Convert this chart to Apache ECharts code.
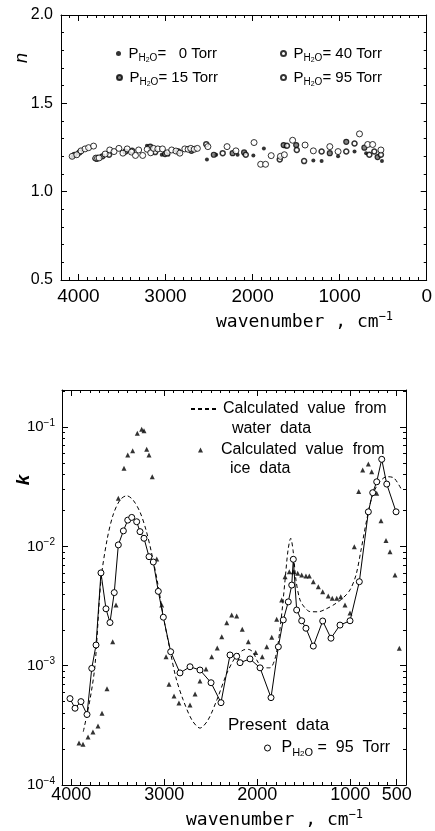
<!DOCTYPE html>
<html><head><meta charset="utf-8">
<script src="https://cdn.jsdelivr.net/npm/echarts@6/dist/echarts.min.js"></script>
<style>html,body{margin:0;padding:0;background:#fff}#c{width:435px;height:831px}</style>
</head><body><div id="c"></div>
<script>
// ---------- DATA ----------
// Top panel: refractive index n vs wavenumber (cm^-1)
const nTorr0 = [[4072,1.196],[3818,1.187],[3213,1.260],[3043,1.209],[2967,1.209],[2524,1.182],[2418,1.209],[2172,1.209],[1991,1.205],[1870,1.245],[1624,1.255],[1302,1.176],[1207,1.173],[1018,1.200],[829,1.227],[696,1.218],[514,1.173]];
const nTorr15 = [[4045,1.209],[3792,1.187],[3724,1.200],[3459,1.227],[3175,1.255],[3005,1.213],[2702,1.231],[2445,1.209],[2229,1.218],[2097,1.222],[1643,1.264],[1499,1.264],[1113,1.218],[924,1.282],[716,1.249],[564,1.196]];
const nTorr40 = [[3989,1.222],[3648,1.209],[3383,1.231],[3118,1.224],[2853,1.227],[2532,1.269],[2343,1.218],[2078,1.209],[1688,1.182],[1605,1.260],[1492,1.236],[1408,1.173],[1207,1.227],[924,1.227],[829,1.273],[659,1.209],[602,1.227],[526,1.209]];
const nTorr95 = [[4072,1.200],[4019,1.209],[3970,1.231],[3924,1.242],[3883,1.249],[3826,1.258],[3800,1.190],[3780,1.190],[3762,1.191],[3693,1.213],[3640,1.236],[3591,1.227],[3535,1.245],[3489,1.218],[3440,1.242],[3391,1.224],[3345,1.205],[3308,1.236],[3262,1.205],[3210,1.240],[3170,1.220],[3137,1.245],[3088,1.242],[3035,1.242],[2980,1.220],[2929,1.236],[2880,1.230],[2835,1.218],[2778,1.242],[2740,1.240],[2710,1.245],[2670,1.240],[2634,1.245],[2513,1.255],[2293,1.255],[2191,1.231],[1983,1.278],[1907,1.155],[1851,1.155],[1786,1.204],[1680,1.200],[1635,1.209],[1540,1.291],[1397,1.264],[1302,1.231],[1113,1.255],[1018,1.227],[772,1.327],[678,1.267],[621,1.267],[526,1.236]];
// Bottom panel: absorption index k vs wavenumber
const kWater = [[3871,2.8e-4],[3799,5.2e-4],[3745,1.01e-3],[3681,5.2e-3],[3616,1.13e-2],[3551,1.83e-2],[3476,2.45e-2],[3404,2.66e-2],[3336,2.45e-2],[3261,1.94e-2],[3196,1.37e-2],[3132,8.5e-3],[3067,4.74e-3],[3003,2.42e-3],[2938,1.35e-3],[2874,7.9e-4],[2798,5.2e-4],[2702,3.5e-4],[2616,3.0e-4],[2530,3.5e-4],[2433,5.2e-4],[2325,8.7e-4],[2228,1.2e-3],[2153,1.35e-3],[2096,1.37e-3],[2046,1.3e-3],[1992,1.07e-3],[1927,9.6e-4],[1863,9.6e-4],[1798,1.23e-3],[1744,2.42e-3],[1701,5.2e-3],[1669,9.3e-3],[1640,1.17e-2],[1615,9.3e-3],[1583,5.2e-3],[1540,3.56e-3],[1486,3.05e-3],[1432,2.84e-3],[1346,2.83e-3],[1260,2.99e-3],[1164,3.29e-3],[1078,3.69e-3],[1002,4.32e-3],[938,5.75e-3],[884,9.3e-3],[823,1.66e-2],[766,2.6e-2],[701,3.33e-2],[608,3.84e-2],[529,3.74e-2],[446,2.97e-2]];
const kIce = [[3917,2.25e-4],[3874,2.2e-4],[3820,2.52e-4],[3767,2.78e-4],[3713,3.13e-4],[3670,4.0e-4],[3616,6.4e-4],[3555,1.59e-3],[3519,3.23e-3],[3494,2.53e-2],[3433,4.52e-2],[3393,5.84e-2],[3340,6.34e-2],[3290,8.87e-2],[3243,9.6e-2],[3218,9.33e-2],[3189,6.52e-2],[3164,5.84e-2],[3129,3.84e-2],[3081,7.83e-3],[3028,3.23e-3],[2981,1.19e-3],[2949,7.0e-4],[2895,5.57e-4],[2842,4.87e-4],[2723,4.69e-4],[2669,5.79e-4],[2616,7.44e-4],[2551,9.38e-4],[2490,1.19e-3],[2430,1.41e-3],[2382,1.75e-3],[2328,2.29e-3],[2275,2.66e-3],[2221,2.61e-3],[2161,2.02e-3],[2096,1.59e-3],[2017,1.29e-3],[1946,1.19e-3],[1898,1.44e-3],[1844,1.73e-3],[1791,2.45e-3],[1737,3.56e-3],[1701,5.57e-3],[1655,6.14e-3],[1612,6.14e-3],[1565,5.96e-3],[1522,5.75e-3],[1476,5.65e-3],[1440,5.65e-3],[1397,5.06e-3],[1343,4.59e-3],[1296,4.17e-3],[1236,3.84e-3],[1193,3.67e-3],[1145,3.67e-3],[1102,3.79e-3],[1056,3.23e-3],[1002,2.77e-3],[956,9.95e-3],[909,2.88e-2],[866,4.37e-2],[805,4.91e-2],[769,4.23e-2],[715,2.79e-2],[669,1.64e-2],[615,1.12e-2],[572,9.04e-3],[518,5.75e-3],[472,1.4e-3]];
const kPresent = [[4014,5.3e-4],[3960,4.4e-4],[3896,5.0e-4],[3831,3.9e-4],[3780,9.5e-4],[3734,1.49e-3],[3681,6.0e-3],[3627,3.0e-3],[3584,2.3e-3],[3538,4.1e-3],[3494,1.03e-2],[3440,1.35e-2],[3393,1.66e-2],[3350,1.75e-2],[3297,1.61e-2],[3261,1.33e-2],[3218,1.17e-2],[3164,8.2e-3],[3118,7.4e-3],[3064,4.2e-3],[3010,2.55e-3],[2931,1.31e-3],[2831,8.7e-4],[2723,9.8e-4],[2616,9.2e-4],[2497,7.2e-4],[2390,4.9e-4],[2293,1.23e-3],[2221,1.2e-3],[2185,1.06e-3],[2078,1.14e-3],[1970,9.6e-4],[1852,5.4e-4],[1773,1.44e-3],[1720,2.42e-3],[1666,3.43e-3],[1629,4.74e-3],[1612,7.8e-3],[1576,2.93e-3],[1522,2.38e-3],[1476,2.06e-3],[1397,1.46e-3],[1296,2.37e-3],[1207,1.7e-3],[1110,2.19e-3],[1002,2.38e-3],[902,5.06e-3],[805,1.95e-2],[758,2.82e-2],[715,3.48e-2],[661,5.37e-2],[607,3.33e-2],[507,1.95e-2]];
// Tick labels
const topXTicks = [0,1000,2000,3000,4000];
const topYTicks = [0.5,1.0,1.5,2.0];
const botXTicks = [500,1000,2000,3000,4000];
const botYTicks = [1e-4,1e-3,1e-2,1e-1];

// ---------- CHART ----------
const SANS = '"Liberation Sans", Arial, sans-serif';
const MONO = '"DejaVu Sans Mono", monospace';
const BLK = '#000';
const chart = echarts.init(document.getElementById('c'), null, {renderer:'canvas'});

function xMinor(grid, min, max, pos) {
  return {type:'value', gridIndex:grid, min:min, max:max, inverse:true, position:pos, interval:100,
    axisLine:{show:true, onZero:false, lineStyle:{color:BLK, width:1}},
    axisTick:{show:true, inside:true, length:3, lineStyle:{color:BLK, width:1}},
    axisLabel:{show:false}, splitLine:{show:false}};
}
function xMajor(grid, min, max, pos, ticks, showLabel, fs, margin) {
  return {type:'value', gridIndex:grid, min:min, max:max, inverse:true, position:pos,
    axisLine:{show:false, onZero:false},
    axisTick:{show:true, inside:true, length:6, customValues:ticks, lineStyle:{color:BLK, width:1}},
    axisLabel:{show:showLabel, customValues:ticks, color:BLK, fontFamily:SANS, fontSize:fs, margin:margin,
      formatter:v=>String(v)},
    splitLine:{show:false}};
}
function yTop(pos, showLabel) {
  return {type:'value', gridIndex:0, min:0.5, max:2.0, interval:0.5, position:pos,
    axisLine:{show:true, onZero:false, lineStyle:{color:BLK, width:1}},
    axisTick:{show:true, inside:true, length:6, lineStyle:{color:BLK}},
    minorTick:{show:true, splitNumber:5, length:3, lineStyle:{color:BLK}},
    axisLabel:{show:showLabel, color:BLK, fontFamily:SANS, fontSize:16, margin:8, formatter:v=>v.toFixed(1)},
    splitLine:{show:false}};
}
function yBot(pos, showLabel) {
  return {type:'log', logBase:10, gridIndex:1, min:1e-4, max:0.2047, position:pos,
    axisLine:{show:true, onZero:false, lineStyle:{color:BLK, width:1}},
    axisTick:{show:true, inside:true, length:6, lineStyle:{color:BLK}},
    minorTick:{show:true, splitNumber:9, length:3, lineStyle:{color:BLK}},
    axisLabel:{show:showLabel, customValues:botYTicks, margin:7,
      formatter:v=>{const e=Math.round(Math.log10(v)); return '{b|10}{e|'+(e<0?'\u2212':'')+Math.abs(e)+'}';},
      rich:{b:{fontSize:15, fontFamily:SANS, color:BLK, lineHeight:18}, e:{fontSize:10, fontFamily:SANS, color:BLK, verticalAlign:'top'}}},
    splitLine:{show:false}};
}

const legRich = {
  p:{fontSize:15, fontFamily:SANS, color:BLK, lineHeight:20},
  s:{fontSize:10, fontFamily:SANS, color:BLK, verticalAlign:'bottom'},
  s2:{fontSize:7, fontFamily:SANS, color:BLK, verticalAlign:'bottom'}
};
const legRich2 = {
  p:{fontSize:16, fontFamily:SANS, color:BLK, lineHeight:20},
  s:{fontSize:11, fontFamily:SANS, color:BLK, verticalAlign:'bottom'},
  s2:{fontSize:8, fontFamily:SANS, color:BLK, verticalAlign:'bottom'},
  a:{fontSize:16, fontFamily:SANS, color:BLK, lineHeight:20},
  i:{fontSize:16, fontFamily:SANS, color:BLK, lineHeight:19}
};
function pLabel(t){ return '{p|P}{s|H}{s2|2}{s|O}{p|'+t+'}'; }
function topLegend(name, left, top, label) {
  return {data:[name], left:left, top:top, padding:0, itemWidth:10, itemHeight:5, itemGap:0,
    selectedMode:false, formatter:()=>pLabel(label), textStyle:{rich:legRich}};
}

const option = {
  animation:false,
  backgroundColor:'#fff',
  textStyle:{fontFamily:SANS},
  grid:[
    {left:61, top:15, width:371, height:265},
    {left:62, top:390, width:344, height:395}
  ],
  xAxis:[
    xMinor(0,0,4200,'bottom'),
    xMajor(0,0,4200,'bottom',topXTicks,true,19,7),
    xMinor(0,0,4200,'top'),
    xMajor(0,0,4200,'top',topXTicks,false,19,7),
    xMinor(1,400,4100,'bottom'),
    xMajor(1,400,4100,'bottom',botXTicks,true,18,1),
    xMinor(1,400,4100,'top'),
    xMajor(1,400,4100,'top',botXTicks,false,18,1)
  ],
  yAxis:[ yTop('left',true), yTop('right',false), yBot('left',true), yBot('right',false) ],
  legend:[
    topLegend('0 Torr', 116, 46, '=   0 Torr'),
    topLegend('15 Torr', 116, 70, '= 15 Torr'),
    topLegend('40 Torr', 280, 46, '= 40 Torr'),
    topLegend('95 Torr', 280, 70, '= 95 Torr'),
    {data:['water'], left:190, top:401, padding:0, itemWidth:27, itemHeight:8, selectedMode:false,
      itemStyle:{opacity:0},
      formatter:()=>'{a|Calculated  value  from}\n{a|  water  data}', textStyle:{rich:legRich2, padding:[20,0,0,0]}},
    {data:['ice'], left:198, top:442, padding:0, itemWidth:5, itemHeight:5, selectedMode:false,
      formatter:()=>'{i|Calculated  value  from}\n{i|  ice  data}', textStyle:{rich:legRich2, padding:[19,0,0,13]}},
    {data:[{name:'present', icon:'circle'}], left:264, top:740, padding:0, itemWidth:18, itemHeight:6, selectedMode:false,
      itemStyle:{color:'#fff', borderColor:BLK, borderWidth:1},
      formatter:()=>'{p|P}{s|H}{s2|2}{s|O}{p| =  95  Torr}', textStyle:{rich:legRich2}}
  ],
  graphic:[
    {type:'text', x:22, y:58, rotation:Math.PI/2, style:{text:'n', font:'italic 18px "Liberation Sans"', fill:BLK, align:'center', verticalAlign:'middle'}},
    {type:'text', x:24, y:480, rotation:Math.PI/2, style:{text:'k', font:'italic bold 19px "Liberation Sans"', fill:BLK, align:'center', verticalAlign:'middle'}},
    {type:'text', x:216, y:322, style:{text:'{a|wavenumber , cm}{s|\u22121}', verticalAlign:'middle',
      rich:{a:{fontSize:18, fontFamily:MONO, color:BLK, lineHeight:22}, s:{fontSize:12, fontFamily:MONO, color:BLK, verticalAlign:'top'}}}},
    {type:'text', x:186, y:820, style:{text:'{a|wavenumber , cm}{s|\u22121}', verticalAlign:'middle',
      rich:{a:{fontSize:18, fontFamily:MONO, color:BLK, lineHeight:22}, s:{fontSize:12, fontFamily:MONO, color:BLK, verticalAlign:'top'}}}},
    {type:'text', x:228, y:725, style:{text:'Present  data', font:'17px "Liberation Sans"', fill:BLK, verticalAlign:'middle'}}
  ],
  series:[
    {name:'0 Torr', type:'scatter', xAxisIndex:0, yAxisIndex:0, data:nTorr0, symbol:'circle', symbolSize:4,
      itemStyle:{color:BLK}},
    {name:'15 Torr', type:'scatter', xAxisIndex:0, yAxisIndex:0, data:nTorr15, symbol:'circle', symbolSize:5,
      itemStyle:{color:'#666', borderColor:BLK, borderWidth:1.2}},
    {name:'40 Torr', type:'scatter', xAxisIndex:0, yAxisIndex:0, data:nTorr40, symbol:'circle', symbolSize:5,
      itemStyle:{color:'#fff', borderColor:BLK, borderWidth:1.5}},
    {name:'95 Torr', type:'scatter', xAxisIndex:0, yAxisIndex:0, data:nTorr95, symbol:'circle', symbolSize:6,
      itemStyle:{color:'#fff', borderColor:BLK, borderWidth:1}},
    {name:'water', type:'line', xAxisIndex:4, yAxisIndex:2, data:kWater, showSymbol:false, symbol:'none', smooth:0.3,
      lineStyle:{color:BLK, width:1, type:[4,3]}, itemStyle:{color:BLK}},
    {name:'ice', type:'scatter', xAxisIndex:4, yAxisIndex:2, data:kIce, symbol:'triangle', symbolSize:5,
      itemStyle:{color:BLK}},
    {name:'present', type:'line', xAxisIndex:4, yAxisIndex:2, data:kPresent, symbol:'circle', symbolSize:6,
      lineStyle:{color:BLK, width:1}, itemStyle:{color:'#fff', borderColor:BLK, borderWidth:1}}
  ]
};
chart.setOption(option);
</script></body></html>
